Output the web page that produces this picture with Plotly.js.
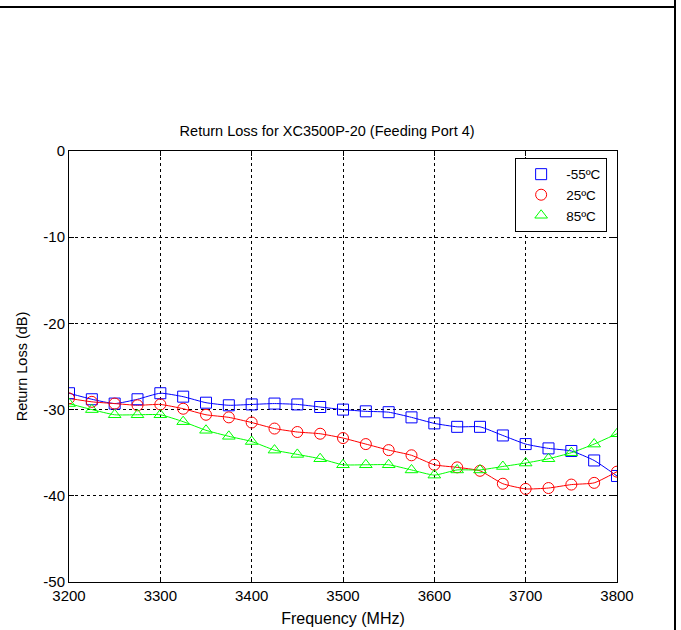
<!DOCTYPE html>
<html>
<head>
<meta charset="utf-8">
<script src="https://cdn.plot.ly/plotly-3.0.1.min.js"></script>
<style>
  html, body { margin: 0; padding: 0; background: #fff; }
  #wrap { position: relative; width: 681px; height: 630px; overflow: hidden; }
  #frameTop { position: absolute; left: 0; top: 6px; width: 676px; height: 2px; background: #000; }
  #frameRight { position: absolute; left: 674px; top: 0; width: 2px; height: 630px; background: #000; }
  #chart { position: absolute; left: 0; top: 0; width: 681px; height: 630px; }
</style>
</head>
<body>
<div id="wrap">
  <div id="chart"></div>
  <div id="frameTop"></div>
  <div id="frameRight"></div>
</div>
<script>
const freq = [3200,3225,3250,3275,3300,3325,3350,3375,3400,3425,3450,3475,3500,
              3525,3550,3575,3600,3625,3650,3675,3700,3725,3750,3775,3800];
const tM55 = [-28.1,-28.8,-29.3,-28.8,-28.1,-28.5,-29.2,-29.5,-29.4,-29.3,-29.4,-29.7,-30.0,
              -30.2,-30.3,-30.9,-31.6,-32.0,-32.0,-33.0,-34.0,-34.5,-34.8,-35.9,-37.7];
const t25  = [-28.7,-29.1,-29.3,-29.5,-29.4,-29.9,-30.6,-30.9,-31.5,-32.2,-32.6,-32.8,-33.3,
              -34.0,-34.7,-35.3,-36.4,-36.7,-37.1,-38.6,-39.2,-39.1,-38.7,-38.5,-37.2];
const t85  = [-29.3,-30.0,-30.6,-30.6,-30.6,-31.4,-32.4,-33.1,-33.7,-34.7,-35.2,-35.7,-36.4,
              -36.4,-36.4,-37.0,-37.6,-37.0,-37.0,-36.6,-36.2,-35.7,-35.0,-34.0,-32.8];
const seriesNames = ['-55ºC', '25ºC', '85ºC'];
const xTicks = [3200,3300,3400,3500,3600,3700,3800];
const yTicks = [0,-10,-20,-30,-40,-50];

const colors = ['#0000ff', '#ff0000', '#00ff00'];
const symbols = ['square-open', 'circle-open', 'triangle-up-open'];
const ys = [tM55, t25, t85];

const traces = [];
ys.forEach((y, i) => {
  traces.push({
    x: freq, y: y, type: 'scatter', mode: 'lines',
    line: { color: colors[i], width: 1, shape: 'spline', smoothing: 0.5 },
    showlegend: false, hoverinfo: 'skip'
  });
});
ys.forEach((y, i) => {
  traces.push({
    x: freq, y: y, type: 'scatter', mode: 'markers', name: seriesNames[i],
    marker: { symbol: symbols[i], size: 11, color: colors[i], line: { color: colors[i], width: 1 } }
  });
});

const fontFam = 'Liberation Sans, Arial, sans-serif';
const layout = {
  width: 681, height: 630,
  margin: { l: 69, r: 64, t: 151, b: 48 },
  paper_bgcolor: '#ffffff', plot_bgcolor: '#ffffff',
  font: { family: fontFam, size: 15, color: '#000' },
  title: { text: 'Return Loss for XC3500P-20 (Feeding Port 4)', font: { family: fontFam, size: 14.5, color: '#000' },
           x: 0.471, xref: 'paper', xanchor: 'center', y: 1 - 131/630, yanchor: 'middle' },
  xaxis: {
    range: [3200, 3800], tickvals: xTicks, ticktext: xTicks.map(String),
    showline: true, linecolor: '#000', linewidth: 1, mirror: 'ticks',
    ticks: 'inside', ticklen: 5, tickcolor: '#000',
    showgrid: true, gridcolor: '#000', gridwidth: 1, griddash: '3px,3px',
    zeroline: false, tickfont: { size: 15 }, automargin: false,
    title: { text: 'Frequency (MHz)', font: { size: 16 }, standoff: 9 }
  },
  yaxis: {
    range: [-50, 0], tickvals: yTicks, ticktext: yTicks.map(String),
    showline: true, linecolor: '#000', linewidth: 1, mirror: 'ticks',
    ticks: 'inside', ticklen: 5, tickcolor: '#000',
    showgrid: true, gridcolor: '#000', gridwidth: 1, griddash: '3px,3px',
    zeroline: false, tickfont: { size: 15 }, automargin: false,
    title: { text: 'Return Loss (dB)', font: { size: 14.5 }, standoff: 12 }
  },
  legend: {
    x: 0.982, y: 0.984, xanchor: 'right', yanchor: 'top',
    bordercolor: '#000', borderwidth: 1, bgcolor: '#fff',
    font: { size: 13.5 }, tracegroupgap: 0, itemwidth: 40
  },
  showlegend: true
};

Plotly.newPlot('chart', traces, layout, { displayModeBar: false, staticPlot: true });
</script>
</body>
</html>
